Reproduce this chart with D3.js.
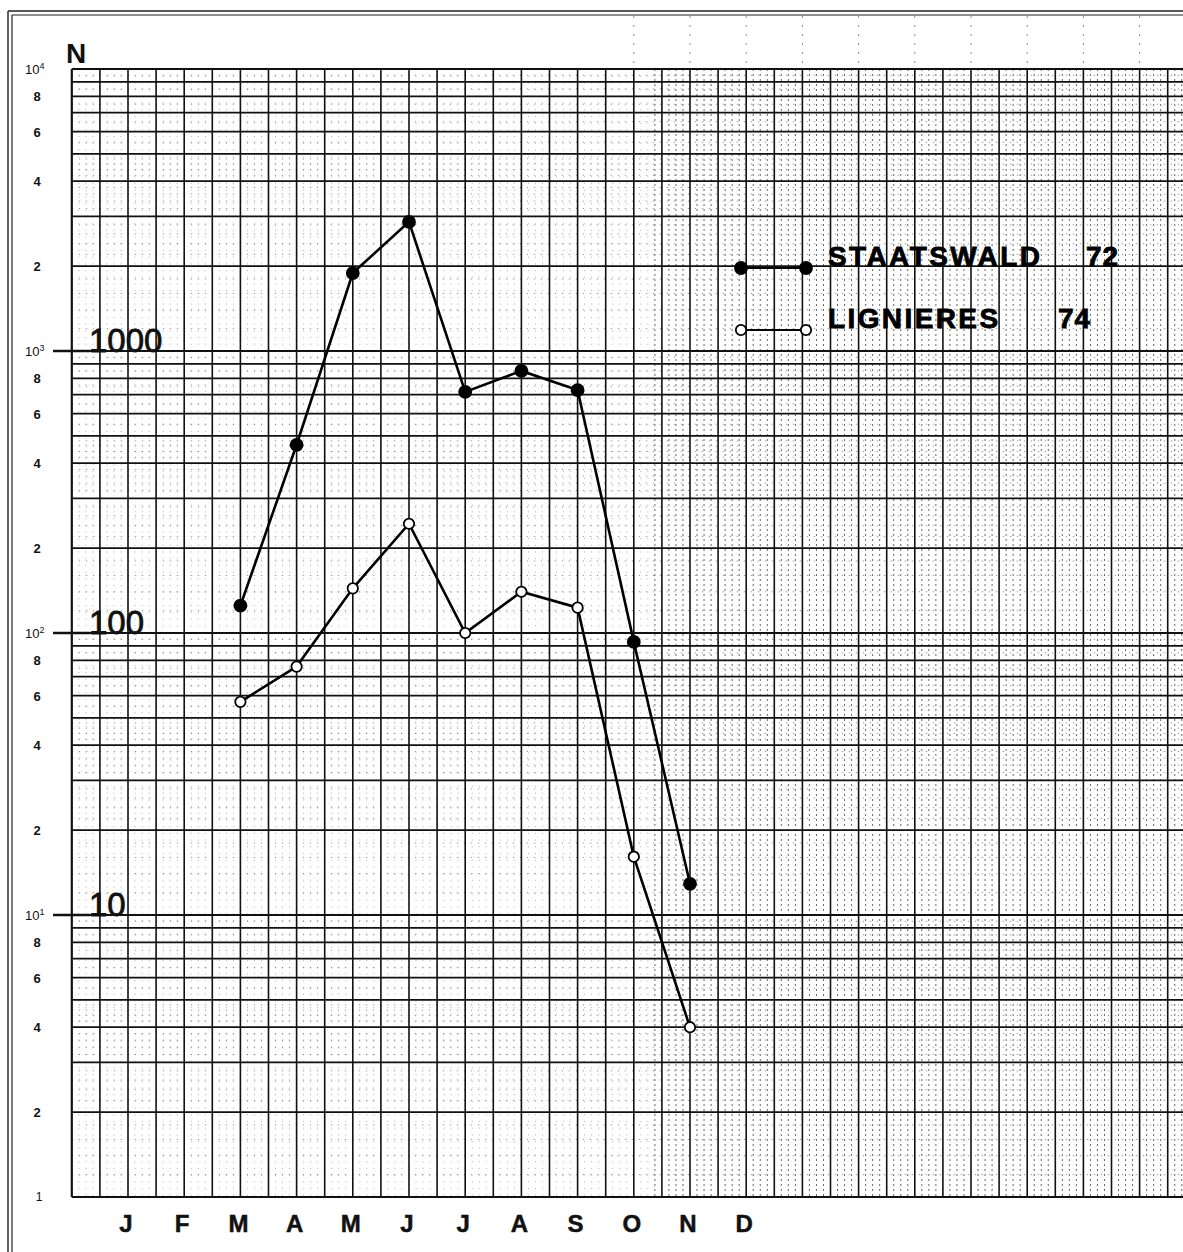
<!DOCTYPE html>
<html>
<head>
<meta charset="utf-8">
<script src="https://cdn.jsdelivr.net/npm/d3@7"></script>
<style>
  body { margin: 0; background: #fff; }
  svg { display: block; font-family: "Liberation Sans", Arial, sans-serif; }
</style>
</head>
<body>
<svg id="chart"></svg>
<script>
const months = ['J', 'F', 'M', 'A', 'M', 'J', 'J', 'A', 'S', 'O', 'N', 'D'];
const seriesMonths = [2, 3, 4, 5, 6, 7, 8, 9, 10];   // M .. N
const staatswald72 = [125, 465, 1890, 2870, 716, 850, 727, 93, 12.9];
const lignieres74 = [57, 76, 144, 244, 100, 140, 123, 16.1, 4.0];
const legendNames = ['STAATSWALD', 'LIGNIERES'];
const legendYears = ['72', '74'];
const smallTicks = [8, 6, 4, 2];
const decadeLabels = ['1000', '100', '10'];

const W = 1183, H = 1252;
const plotLeft = 71.8, plotTop = 69, plotBottom = 1197, plotRight = W;

const svg = d3.select('#chart')
  .attr('width', W)
  .attr('height', H);

const x = d3.scaleLinear().domain([-1, 11]).range([plotLeft, 746.2]);
const y = d3.scaleLog().domain([1, 1e4]).range([plotBottom, plotTop]);
const maxMonth = x.invert(plotRight);

const grid = svg.append('g');

// dotted minor verticals (denser / darker on the right half of the paper)
for (let m = -1; m <= maxMonth; m += 0.125) {
  if (Math.abs(m * 2 - Math.round(m * 2)) < 1e-6) continue;
  const xp = x(m);
  grid.append('line')
    .attr('x1', xp).attr('x2', xp)
    .attr('y1', plotTop).attr('y2', plotBottom)
    .attr('stroke', '#000')
    .attr('stroke-width', xp > 650 ? 1 : 0.9)
    .attr('stroke-opacity', xp > 650 ? 0.6 : 0.3)
    .attr('stroke-dasharray', xp > 650 ? '2,3' : '1.2,5.5');
}

// dotted minor horizontals
const minorVals = [];
for (let d = 1; d < 1e4; d *= 10) {
  for (let v = 1.2; v < 5; v += 0.2) {
    if (Math.abs(v - Math.round(v)) > 1e-6) minorVals.push(v * d);
  }
  for (let v = 5.5; v < 10; v += 1) minorVals.push(v * d);
}
grid.selectAll('.minor-h')
  .data(minorVals)
  .enter().append('line')
  .attr('class', 'minor-h')
  .attr('x1', plotLeft).attr('x2', plotRight)
  .attr('y1', d => y(d)).attr('y2', d => y(d))
  .attr('stroke', '#000')
  .attr('stroke-opacity', 0.4)
  .attr('stroke-dasharray', '1.4,5.6');

// major horizontals 1..10 in each decade
const majorVals = [];
for (let d = 1; d < 1e4; d *= 10) {
  for (let v = 1; v < 10; v++) majorVals.push(v * d);
}
majorVals.push(1e4);
grid.selectAll('.major-h')
  .data(majorVals)
  .enter().append('line')
  .attr('class', 'major-h')
  .attr('x1', plotLeft).attr('x2', plotRight)
  .attr('y1', d => y(d)).attr('y2', d => y(d))
  .attr('stroke', '#111')
  .attr('stroke-width', d => (Math.abs(Math.log10(d) % 1) < 1e-9 ? 2.2 : 1.8));

// major verticals every half month
const majorX = d3.range(-1, maxMonth, 0.5);
grid.selectAll('.major-v')
  .data(majorX)
  .enter().append('line')
  .attr('class', 'major-v')
  .attr('x1', d => x(d)).attr('x2', d => x(d))
  .attr('y1', plotTop).attr('y2', plotBottom)
  .attr('stroke', '#111')
  .attr('stroke-width', (d, i) => (i === 0 ? 2.2 : 1.6));

// faint printing marks above the grid on the right
grid.selectAll('.top-mark')
  .data(majorX.filter(d => x(d) > 600 && Math.round(d * 2) % 2 === 0))
  .enter().append('line')
  .attr('class', 'top-mark')
  .attr('x1', d => x(d)).attr('x2', d => x(d))
  .attr('y1', 16).attr('y2', plotTop)
  .attr('stroke', '#000')
  .attr('stroke-opacity', 0.45)
  .attr('stroke-dasharray', '2,7');

// frame
svg.append('line').attr('x1', 8).attr('x2', 8).attr('y1', 11).attr('y2', H).attr('stroke', '#222').attr('stroke-width', 1.4);
svg.append('line').attr('x1', 12).attr('x2', 12).attr('y1', 15).attr('y2', H).attr('stroke', '#222').attr('stroke-width', 1.2);
svg.append('line').attr('x1', 8).attr('x2', W).attr('y1', 11).attr('y2', 11).attr('stroke', '#222').attr('stroke-width', 1.4);
svg.append('line').attr('x1', 12).attr('x2', W).attr('y1', 15).attr('y2', 15).attr('stroke', '#222').attr('stroke-width', 1.2);

// y axis labels
const labels = svg.append('g').attr('fill', '#111');
for (let e = 0; e <= 4; e++) {
  const base = Math.pow(10, e);
  if (e === 0) {
    labels.append('text').attr('x', 39).attr('y', y(1) + 4)
      .attr('text-anchor', 'middle').attr('font-size', 12).text('1');
  } else {
    const t = labels.append('text').attr('x', 25).attr('y', y(base) + 5)
      .attr('font-size', 13);
    t.append('tspan').text('10');
    t.append('tspan').attr('dy', -5).attr('font-size', 9).text(e);
  }
  if (e < 4) {
    smallTicks.forEach(v => {
      labels.append('text')
        .attr('x', 37).attr('y', y(v * base) + 5)
        .attr('text-anchor', 'middle')
        .attr('font-size', 13).attr('font-weight', 'bold')
        .text(v);
    });
  }
}

// big decade labels with leader lines
decadeLabels.forEach(s => {
  const v = +s;
  labels.append('line')
    .attr('x1', 53).attr('x2', 90)
    .attr('y1', y(v)).attr('y2', y(v))
    .attr('stroke', '#111').attr('stroke-width', 2.5);
  labels.append('text')
    .attr('x', 89).attr('y', y(v) + 1)
    .attr('font-size', 33)
    .attr('stroke', '#111').attr('stroke-width', 0.8)
    .text(s);
});

labels.append('text')
  .attr('x', 66).attr('y', 63)
  .attr('font-size', 28).attr('font-weight', 'bold')
  .text('N');

// month labels
labels.selectAll('.month')
  .data(months)
  .enter().append('text')
  .attr('class', 'month')
  .attr('x', (d, i) => x(i) - 2)
  .attr('y', 1232)
  .attr('text-anchor', 'middle')
  .attr('font-size', 24).attr('font-weight', 'bold')
  .attr('stroke', '#111').attr('stroke-width', 0.5)
  .text(d => d);

// series
const line = d3.line()
  .x(d => x(d[0]))
  .y(d => y(d[1]));

const series = [
  { values: staatswald72, filled: true },
  { values: lignieres74, filled: false }
];

series.forEach(s => {
  const pts = seriesMonths.map((m, i) => [m, s.values[i]]);
  svg.append('path')
    .datum(pts)
    .attr('d', line)
    .attr('fill', 'none')
    .attr('stroke', '#000')
    .attr('stroke-width', 2.6);
  svg.selectAll(null)
    .data(pts)
    .enter().append('circle')
    .attr('cx', d => x(d[0]))
    .attr('cy', d => y(d[1]))
    .attr('r', s.filled ? 6 : 5.2)
    .attr('fill', s.filled ? '#000' : '#fff')
    .attr('stroke', '#000')
    .attr('stroke-width', 1.8);
});

// legend
const legendY = [268, 330];
series.forEach((s, i) => {
  const g = svg.append('g');
  g.append('line')
    .attr('x1', 741).attr('x2', 806)
    .attr('y1', legendY[i]).attr('y2', legendY[i])
    .attr('stroke', '#000').attr('stroke-width', 2.2);
  [741, 806].forEach(cx => {
    g.append('circle')
      .attr('cx', cx).attr('cy', legendY[i])
      .attr('r', s.filled ? 6 : 5.2)
      .attr('fill', s.filled ? '#000' : '#fff')
      .attr('stroke', '#000').attr('stroke-width', 1.8);
  });
  g.append('text')
    .attr('x', 828).attr('y', legendY[i] - 2)
    .attr('font-size', 28).attr('font-weight', 'bold')
    .attr('letter-spacing', 2.4)
    .attr('stroke', '#000').attr('stroke-width', 0.8)
    .text(legendNames[i]);
  g.append('text')
    .attr('x', i === 0 ? 1086 : 1058).attr('y', legendY[i] - 2)
    .attr('font-size', 28).attr('font-weight', 'bold')
    .attr('letter-spacing', 1)
    .attr('stroke', '#000').attr('stroke-width', 0.8)
    .text(legendYears[i]);
});
</script>
</body>
</html>
